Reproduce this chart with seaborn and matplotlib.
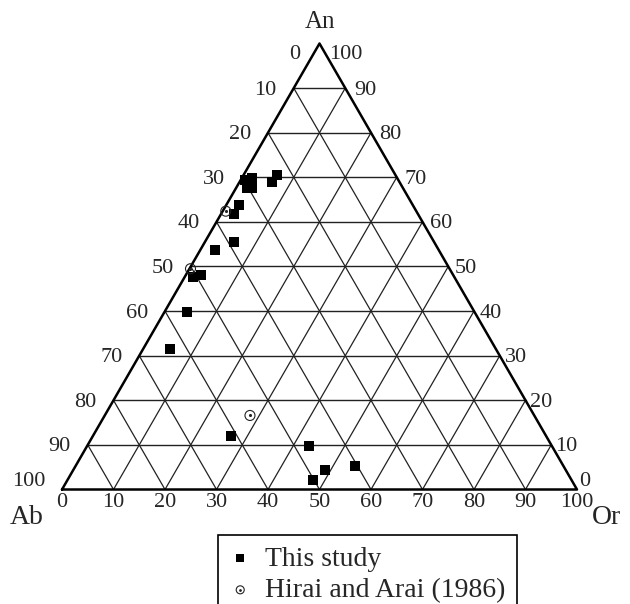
import matplotlib
matplotlib.use('Agg')
import matplotlib.pyplot as plt
import numpy as np
import pandas as pd
import seaborn as sns

this_an = [70.5, 69.0, 69.4, 69.8, 67.6, 67.6, 63.8, 61.8, 55.5, 53.7,
           47.6, 48.1, 39.8, 31.5, 12.1, 9.8, 4.4, 2.2, 5.3]
this_or = [6.5, 6.3, 0.8, 2.0, 2.1, 3.1, 2.5, 2.5, 5.6, 2.9,
           1.6, 2.9, 4.3, 5.2, 26.7, 43.0, 48.8, 47.6, 54.2]
hirai_an = [62.4, 49.5, 16.6]
hirai_or = [0.6, 0.2, 28.2]
tick_vals = list(range(0, 101, 10))

H = np.sqrt(3) / 2
PX = 1 / 515  # one pixel in data units


def to_xy(an, orr):
    an = np.asarray(an) / 100
    orr = np.asarray(orr) / 100
    return orr + an / 2, an * H


tx, ty = to_xy(this_an, this_or)
hx, hy = to_xy(hirai_an, hirai_or)
this_df = pd.DataFrame({'x': tx, 'y': ty})
hirai_df = pd.DataFrame({'x': hx, 'y': hy})

sns.set_theme(style='white')
plt.rcParams['font.family'] = ['Liberation Serif', 'DejaVu Serif']
fs = 16

fig = plt.figure(figsize=(6.3, 6.04), dpi=100)
ax = fig.add_axes([0, 0, 1, 1])
ax.set_xlim(-62 * PX, 568 * PX)
ax.set_ylim(-114.5 * PX, 489.5 * PX)
ax.axis('off')

# grid
for v in tick_vals[1:-1]:
    t = v / 100
    ax.plot([t / 2, 1 - t / 2], [t * H, t * H], color='#222222', lw=1.0, zorder=1)
    ax.plot([t, t + (1 - t) / 2], [0, (1 - t) * H], color='#222222', lw=0.9, zorder=1)
    ax.plot([1 - t, (1 - t) / 2], [0, (1 - t) * H], color='#222222', lw=0.9, zorder=1)
ax.plot([0, 1, 0.5, 0], [0, 0, H, 0], color='black', lw=1.8, zorder=2)

# tick labels
for v in tick_vals:
    t = v / 100
    # bottom (Or)
    ax.text(t, -13 * PX, str(v), ha='center', va='center', fontsize=fs)
    # left (Ab) at line An = 1 - t
    an = 1 - t
    if v == 0:
        ax.text(0.5 - 19 * PX, H - 11 * PX, '0', ha='right', va='center', fontsize=fs)
    else:
        dy = 8 if v == 100 else -2
        ax.text(an / 2 - 17 * PX, an * H + dy * PX, str(v), ha='right', va='center', fontsize=fs)
    # right (An)
    if v == 100:
        ax.text(0.5 + 10 * PX, H - 11 * PX, '100', ha='left', va='center', fontsize=fs)
    elif v == 0:
        ax.text(1 + 2 * PX, 8 * PX, '0', ha='left', va='center', fontsize=fs)
    else:
        gap = 3 + 7 * t
        ax.text(1 - t / 2 + gap * PX, t * H - 2 * PX, str(v), ha='left', va='center', fontsize=fs)

ax.text(0.5, H + 21.5 * PX, 'An', ha='center', va='center', fontsize=18)
ax.text(-35 * PX, -28 * PX, 'Ab', ha='center', va='center', fontsize=20)
ax.text(1 + 29 * PX, -28 * PX, 'Or', ha='center', va='center', fontsize=20)

# data
sns.scatterplot(data=this_df, x='x', y='y', marker='s', color='black', s=58,
                linewidth=0, ax=ax, label='This study', zorder=3)
sns.scatterplot(data=hirai_df, x='x', y='y', marker='o', s=52, facecolor='none',
                edgecolor='#222222', linewidth=0.8, ax=ax, label='Hirai and Arai (1986)',
                zorder=3)
dots = ax.scatter(hx, hy, marker='o', s=1.5, color='#222222', zorder=4)

handles, labels = ax.get_legend_handles_labels()
handles = [handles[0], (handles[1], dots)]
leg = ax.legend(handles, labels, loc='upper left',
                bbox_to_anchor=(218 / 630, 1 - 535 / 604), bbox_transform=fig.transFigure,
                borderaxespad=0, frameon=True, fancybox=False, framealpha=1,
                edgecolor='black', fontsize=20, markerscale=0.8,
                handlelength=0.8, handletextpad=0.5, labelspacing=0.22, borderpad=0.4)
leg.get_frame().set_linewidth(1.2)

fig.savefig('out.png', dpi=100)
